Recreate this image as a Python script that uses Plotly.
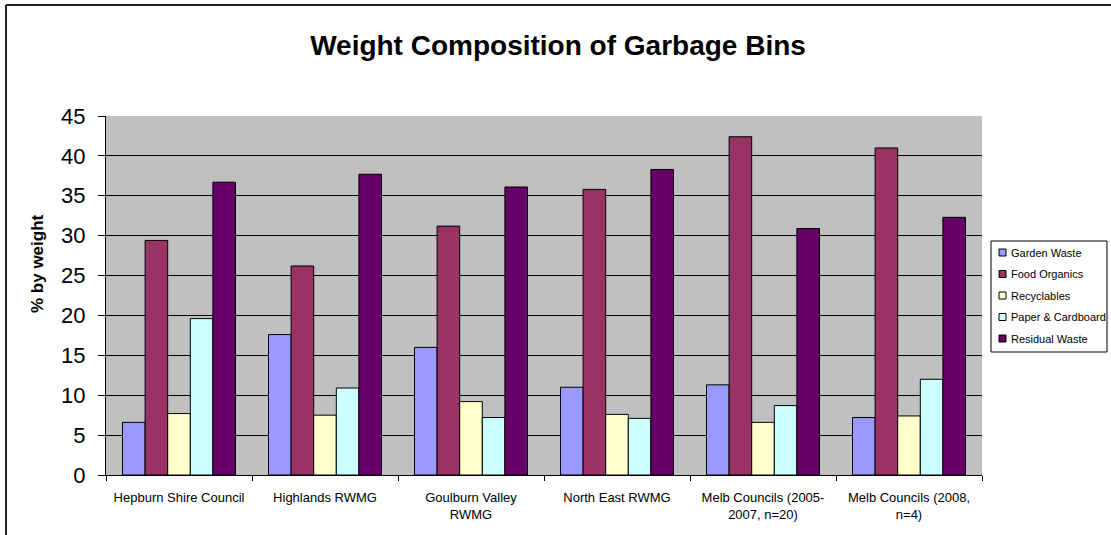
import plotly.graph_objects as go

# --- data -----------------------------------------------------------------
categories = [
    "Hepburn Shire Council",
    "Highlands RWMG",
    "Goulburn Valley<br>RWMG",
    "North East RWMG",
    "Melb Councils (2005-<br>2007, n=20)",
    "Melb Councils (2008,<br>n=4)",
]
series_names = ["Garden Waste", "Food Organics", "Recyclables",
                "Paper & Cardboard", "Residual Waste"]
garden_waste = [6.6, 17.6, 16.0, 11.0, 11.3, 7.2]
food_organics = [29.4, 26.2, 31.2, 35.8, 42.4, 41.0]
recyclables = [7.7, 7.5, 9.2, 7.6, 6.6, 7.4]
paper_cardboard = [19.6, 10.9, 7.2, 7.1, 8.7, 12.0]
residual_waste = [36.7, 37.7, 36.1, 38.3, 30.9, 32.3]
y_ticks = [0, 5, 10, 15, 20, 25, 30, 35, 40, 45]

series_values = [garden_waste, food_organics, recyclables,
                 paper_cardboard, residual_waste]
colors = ["#9999FF", "#993366", "#FFFFCC", "#CCFFFF", "#660066"]

FONT = "Liberation Sans, Arial, sans-serif"
W, H = 1111, 535
L, R, T, B = 106, 982, 116, 475  # plot area in pixels


def px_x(px):
    return (px - L) / (R - L)


def px_y(py):
    return (B - py) / (B - T)


fig = go.Figure()
for name, vals, col in zip(series_names, series_values, colors):
    fig.add_trace(go.Bar(
        x=categories, y=vals, name=name,
        marker=dict(color=col, line=dict(color="black", width=1)),
        showlegend=False,
    ))

# Legend box drawn as shapes + annotations
shapes = []
annotations = []
shapes.append(dict(type="rect", xref="paper", yref="paper",
                   x0=px_x(991), x1=px_x(1107), y0=px_y(352), y1=px_y(241),
                   line=dict(color="black", width=1), fillcolor="white"))
for i, (name, col) in enumerate(zip(series_names, colors)):
    cy = 252.5 + i * 21.5
    shapes.append(dict(type="rect", xref="paper", yref="paper",
                       x0=px_x(999), x1=px_x(1006),
                       y0=px_y(cy + 3.5), y1=px_y(cy - 3.5),
                       line=dict(color="black", width=1), fillcolor=col))
    annotations.append(dict(text=name, xref="paper", yref="paper",
                            x=px_x(1009), y=px_y(cy), xanchor="left",
                            yanchor="middle", showarrow=False,
                            font=dict(family=FONT, size=11, color="black")))

# Y-axis title
annotations.append(dict(text="<b>% by weight</b>", xref="paper", yref="paper",
                        x=px_x(37), y=px_y(264), xanchor="center",
                        yanchor="middle", textangle=-90, showarrow=False,
                        font=dict(family=FONT, size=17, color="black")))

# Chart frame (top and left edges)
shapes.append(dict(type="line", xref="paper", yref="paper",
                   x0=px_x(6), x1=px_x(1111), y0=px_y(5), y1=px_y(5),
                   line=dict(color="#222", width=2)))
shapes.append(dict(type="line", xref="paper", yref="paper",
                   x0=px_x(6), x1=px_x(6), y0=px_y(5), y1=px_y(535),
                   line=dict(color="#222", width=2)))

fig.update_layout(
    width=W, height=H,
    margin=dict(l=L, r=W - R, t=T, b=H - B, autoexpand=False),
    paper_bgcolor="white", plot_bgcolor="#C0C0C0",
    barmode="group", bargap=0.226, bargroupgap=0,
    title=dict(text="<b>Weight Composition of Garbage Bins</b>",
               x=558 / W, xanchor="center", xref="container",
               y=1 - 45 / H, yanchor="middle", yref="container",
               font=dict(family=FONT, size=28, color="black")),
    font=dict(family=FONT, color="black"),
    shapes=shapes, annotations=annotations,
)
fig.update_xaxes(
    type="category", tickson="boundaries", ticks="outside", ticklen=5,
    tickcolor="black", showline=True, linecolor="black", linewidth=1,
    showgrid=False, tickfont=dict(family=FONT, size=13, color="black"),
    ticklabelstandoff=10,
)
fig.update_yaxes(
    range=[0, 45], tickvals=y_ticks, ticks="outside", ticklen=7,
    tickcolor="black", showline=True, linecolor="black", linewidth=1,
    showgrid=True, gridcolor="black", gridwidth=1, zeroline=False,
    tickfont=dict(family=FONT, size=22, color="black"),
    ticklabelstandoff=8,
)

fig.write_html("out.html")
